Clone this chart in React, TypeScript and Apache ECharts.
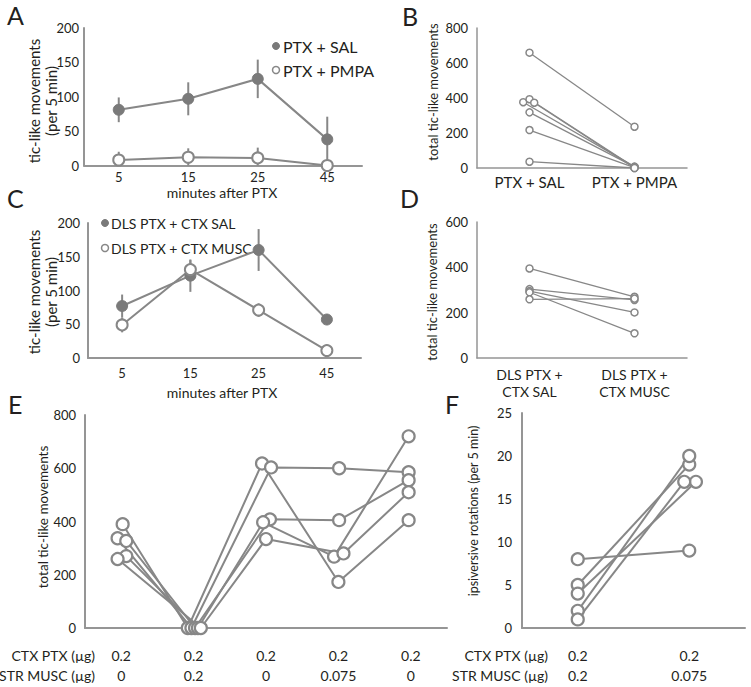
import React, { useEffect, useRef } from "react";
import * as echarts from "echarts";

// ---------- data ----------
const timeCats = ["5", "15", "25", "45"];
const aSalMean = [81, 97, 126, 38];
const aSalErr = [18, 24, 28, 33];
const aPmpaMean = [8, 12, 11, 0];
const aPmpaErr = [12, 13, 15, 0];

const cSalMean = [77, 122, 160, 57];
const cSalErr = [17, 24, 31, 8];
const cMuscMean = [49, 131, 71, 11];
const cMuscErr = [11, 14, 10, 3];

const bCats = ["PTX + SAL", "PTX + PMPA"];
const bSal = [659, 376, 393, 373, 318, 217, 36];
const bPmpa = [236, 8, 4, 0, 6, 2, 0];

const dCats = ["DLS PTX +\nCTX SAL", "DLS PTX +\nCTX MUSC"];
const dSal = [395, 304, 295, 290, 259];
const dMusc = [270, 256, 201, 109, 262];

const eCtxPtx = ["0.2", "0.2", "0.2", "0.2", "0.2"];
const eStrMusc = ["0", "0.2", "0", "0.075", "0"];
const eSubject1 = [390, 0, 618, 173, 405];
const eSubject2 = [337, 0, 603, 600, 585];
const eSubject3 = [327, 0, 408, 405, 555];
const eSubject4 = [270, 0, 397, 268, 720];
const eSubject5 = [259, 0, 334, 280, 510];

const fCtxPtx = ["0.2", "0.2"];
const fStrMusc = ["0.2", "0.075"];
const fPre = [8, 5, 4, 2, 1];
const fPost = [9, 19, 17, 20, 17];

// small horizontal dodges so overlapping circles stay visible
const bDodgeSal = [0, -0.06, 0, 0.045, 0, 0, 0];
const eDodge = [
  [0.02, -0.05, 0.07, 0.07, -0.05],
  [-0.08, -0.03, 0.02, 0.06, 0.1],
  [-0.055, 0.07, 0.055, -0.04, 0],
  [0, 0.01, 0.01, -0.06, 0.07],
  [-0.03, -0.03, -0.03, -0.03, -0.03],
];
const fDodgePost = [0, 0, 0.06, 0, -0.045];

// ---------- styles ----------
const FONT = "Lato, 'Open Sans', sans-serif";
const TXT = "#231f20";
const GREY = "#878787";
const FILL = "#7a7a7a";
const AXIS = "#959595";

function catX(grid: number, data: string[], margin: number, fontSize = 13, lineHeight?: number) {
  return {
    type: "category",
    gridIndex: grid,
    data,
    boundaryGap: true,
    axisTick: { show: false },
    axisLine: { lineStyle: { color: AXIS, width: 2 } },
    axisLabel: { color: TXT, fontSize, fontFamily: FONT, margin, lineHeight, interval: 0 },
    splitLine: { show: false },
  };
}

function valX(grid: number, max: number, fmt: (v: number) => string, margin: number, fontSize = 13, lineHeight?: number, width = 2) {
  return {
    type: "value",
    gridIndex: grid,
    min: 0,
    max,
    interval: 0.5,
    axisTick: { show: false },
    axisLine: { show: true, lineStyle: { color: AXIS, width } },
    axisLabel: { color: TXT, fontSize, fontFamily: FONT, margin, lineHeight, formatter: fmt, showMinLabel: true, showMaxLabel: true },
    splitLine: { show: false },
  };
}

function valY(grid: number, max: number, interval: number, margin: number, width = 2) {
  return {
    type: "value",
    gridIndex: grid,
    min: 0,
    max,
    interval,
    axisTick: { show: false },
    axisLine: { show: true, lineStyle: { color: AXIS, width } },
    axisLabel: { color: TXT, fontSize: 13, fontFamily: FONT, margin },
    splitLine: { show: false },
  };
}

function meanLine(idx: number, name: string, means: number[], filled: boolean) {
  return {
    type: "line",
    name,
    xAxisIndex: idx,
    yAxisIndex: idx,
    data: means,
    symbol: "circle",
    symbolSize: 11,
    z: 4,
    lineStyle: { color: GREY, width: 2 },
    itemStyle: filled
      ? { color: FILL, borderColor: FILL, borderWidth: 1 }
      : { color: "#ffffff", borderColor: GREY, borderWidth: 2 },
  };
}

function errBars(idx: number, means: number[], errs: number[]) {
  return {
    type: "custom",
    xAxisIndex: idx,
    yAxisIndex: idx,
    silent: true,
    z: 2,
    data: means.map((m, i) => [i, Math.max(0, m - errs[i]), m + errs[i]]),
    encode: { x: 0, y: [1, 2] },
    renderItem: (_p: any, api: any) => {
      const lo = api.coord([api.value(0), api.value(1)]);
      const hi = api.coord([api.value(0), api.value(2)]);
      return {
        type: "line",
        shape: { x1: lo[0], y1: lo[1], x2: hi[0], y2: hi[1] },
        style: { stroke: GREY, lineWidth: 2 },
      };
    },
  };
}

function subjectLine(idx: number, pts: number[][], size: number, lw: number, bw: number) {
  return {
    type: "line",
    xAxisIndex: idx,
    yAxisIndex: idx,
    data: pts,
    symbol: "circle",
    symbolSize: size,
    z: 4,
    lineStyle: { color: GREY, width: lw },
    itemStyle: { color: "#ffffff", borderColor: GREY, borderWidth: bw },
  };
}

function txt(text: string, x: number, y: number, fontSize: number, align = "left", rotate = false, lineHeight?: number) {
  return {
    type: "text",
    x,
    y,
    rotation: rotate ? Math.PI / 2 : 0,
    silent: true,
    style: {
      text,
      fontSize,
      fontFamily: FONT,
      fill: TXT,
      align,
      verticalAlign: "middle",
      lineHeight: lineHeight ?? Math.round(fontSize * 1.2),
    },
  };
}

function dot(cx: number, cy: number, filled: boolean) {
  return {
    type: "circle",
    silent: true,
    shape: { cx, cy, r: 3.5 },
    style: filled ? { fill: FILL, stroke: FILL, lineWidth: 1 } : { fill: "#fff", stroke: GREY, lineWidth: 1.5 },
  };
}

export default function App() {
  const ref = useRef<HTMLDivElement>(null);
  useEffect(() => {
    if (!ref.current) return;
    const chart = echarts.init(ref.current, undefined, { renderer: "svg" });

    const eSubjects = [eSubject1, eSubject2, eSubject3, eSubject4, eSubject5];

    const option: any = {
      animation: false,
      backgroundColor: "#ffffff",
      grid: [
        { left: 84, top: 28, width: 278, height: 137.5 },
        { left: 477, top: 28, width: 210, height: 140 },
        { left: 88, top: 223, width: 273, height: 135 },
        { left: 477, top: 222, width: 210, height: 136 },
        { left: 85, top: 415, width: 362, height: 213 },
        { left: 522, top: 413, width: 223, height: 215 },
      ],
      xAxis: [
        catX(0, timeCats, 5),
        valX(1, 2, (v) => (v === 0.5 ? bCats[0] : v === 1.5 ? bCats[1] : ""), 6, 15, undefined, 1.5),
        catX(2, timeCats, 8),
        { ...catX(3, dCats, 8, 14, 17), axisLine: { lineStyle: { color: AXIS, width: 1.5 } } },
        valX(4, 5, (v) => {
          const k = Math.floor(v);
          return v - k === 0.5 ? `${eCtxPtx[k]}\n${eStrMusc[k]}` : "";
        }, 17, 14, 20),
        valX(5, 2, (v) => {
          const k = Math.floor(v);
          return v - k === 0.5 ? `${fCtxPtx[k]}\n${fStrMusc[k]}` : "";
        }, 17, 14, 20),
      ],
      yAxis: [
        valY(0, 200, 50, 5),
        valY(1, 800, 200, 9, 1.5),
        valY(2, 200, 50, 8),
        valY(3, 600, 200, 9, 1.5),
        valY(4, 800, 200, 9),
        valY(5, 25, 5, 10),
      ],
      series: [
        errBars(0, aSalMean, aSalErr),
        errBars(0, aPmpaMean, aPmpaErr),
        meanLine(0, "PTX + SAL", aSalMean, true),
        meanLine(0, "PTX + PMPA", aPmpaMean, false),
        errBars(2, cSalMean, cSalErr),
        errBars(2, cMuscMean, cMuscErr),
        meanLine(2, "DLS PTX + CTX SAL", cSalMean, true),
        meanLine(2, "DLS PTX + CTX MUSC", cMuscMean, false),
        ...bSal.map((v, i) =>
          subjectLine(1, [[0.5 + bDodgeSal[i], v], [1.5, bPmpa[i]]], 7, 1.3, 1.5)
        ),
        ...dSal.map((v, i) => subjectLine(3, [[0, v], [1, dMusc[i]]], 7, 1.3, 1.5)),
        ...eSubjects.map((s, a) =>
          subjectLine(4, s.map((v, k) => [k + 0.5 + eDodge[k][a], v]), 12, 2, 2.2)
        ),
        ...fPre.map((v, i) =>
          subjectLine(5, [[0.5, v], [1.5 + fDodgePost[i], fPost[i]]], 12, 2, 2.2)
        ),
      ],
      graphic: [
        // panel letters
        txt("A", 7, 15, 25),
        txt("B", 402, 16, 25),
        txt("C", 7, 198, 25),
        txt("D", 400, 198, 25),
        txt("E", 8, 404, 25),
        txt("F", 445, 404, 25),
        // axis titles
        txt("tic-like movements\n(per 5 min)", 42, 101, 15, "center", true, 17),
        txt("minutes after PTX", 222, 192, 14, "center"),
        txt("total tic-like movements", 433, 92, 13, "center", true),
        txt("tic-like movements\n(per 5 min)", 42, 292, 15, "center", true, 17),
        txt("minutes after PTX", 222, 392, 14, "center"),
        txt("total tic-like movements", 432, 292, 13, "center", true),
        txt("total tic-like movements", 43, 517, 13.5, "center", true),
        txt("ipsiversive rotations (per 5 min)", 473, 511, 12.5, "center", true),
        // row headers
        txt("CTX PTX (µg)", 95, 655, 14, "right"),
        txt("STR MUSC (µg)", 95, 675, 14, "right"),
        txt("CTX PTX (µg)", 548, 655, 14, "right"),
        txt("STR MUSC (µg)", 548, 675, 14, "right"),
        // legends
        dot(276, 46, true),
        txt("PTX + SAL", 283, 46, 16),
        dot(276, 70, false),
        txt("PTX + PMPA", 283, 70, 16),
        dot(105, 223, true),
        txt("DLS PTX + CTX SAL", 111, 223, 14),
        dot(105, 248, false),
        txt("DLS PTX + CTX MUSC", 111, 248, 14),
      ],
    };
    chart.setOption(option);
    return () => chart.dispose();
  }, []);

  return (
    <div
      ref={ref}
      style={{ position: "absolute", left: 0, top: 0, width: 751, height: 687, background: "#fff" }}
    />
  );
}
